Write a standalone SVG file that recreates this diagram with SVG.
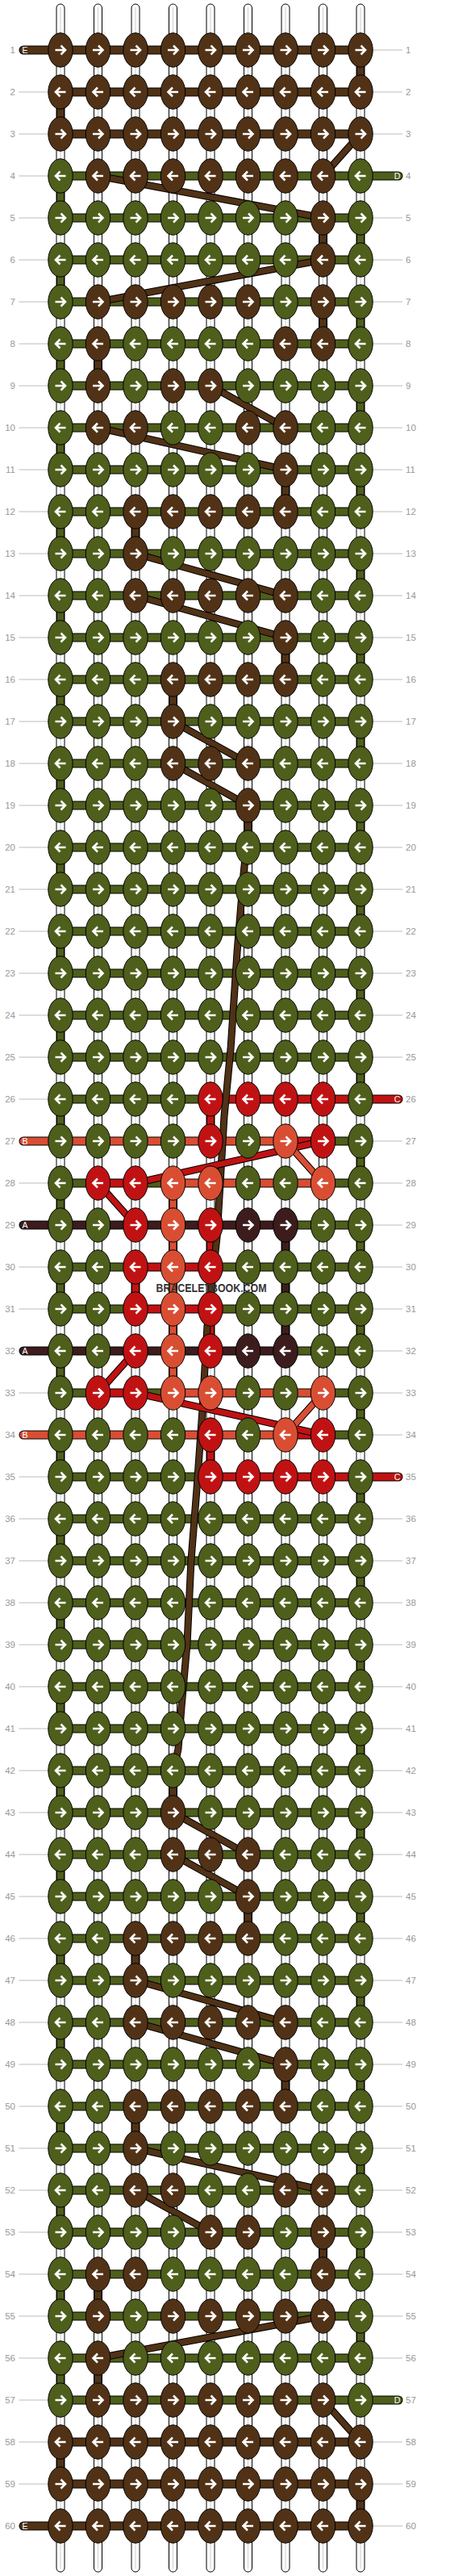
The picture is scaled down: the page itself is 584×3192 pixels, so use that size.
<svg xmlns="http://www.w3.org/2000/svg" width="584" height="3192" viewBox="0 0 584 3192">
<style>
.k{stroke:#000;stroke-width:1}
.g{fill:#4E5E1B}.e{fill:#513216}.c{fill:#C11213}.b{fill:#D94E33}.a{fill:#3D1C1D}
.ar{fill:none;stroke:#fff;stroke-width:2.6}
.warp{fill:#fff;stroke:#000;stroke-width:1}
.wc{stroke:#ccc;stroke-width:1}
.num{font-family:"Liberation Sans",Arial,sans-serif;font-size:11.5px;fill:#999}
.lab{font-family:"Liberation Sans",Arial,sans-serif;font-size:10.5px;fill:#fff;text-anchor:middle}
.ob{fill:none;stroke:#000;stroke-linecap:round}
.hb{fill:none;stroke-linecap:round;stroke-width:9}
.vb{fill:none;stroke-width:8}
.vo{fill:none;stroke:#000;stroke-width:10}
.dg{fill:none;stroke-width:7;stroke-linejoin:round}
.do{fill:none;stroke:#000;stroke-width:9;stroke-linejoin:round}
</style>
<defs>
<path id="ar" class="ar" d="M-6.5,0H5M0.5,-5.5L6,0L0.5,5.5"/>
<path id="al" class="ar" d="M6.5,0H-5M-0.5,-5.5L-6,0L-0.5,5.5"/>
<g id="GR"><ellipse class="k g" rx="15.2" ry="21.2"/><use href="#ar"/></g>
<g id="GL"><ellipse class="k g" rx="15.2" ry="21.2"/><use href="#al"/></g>
<g id="ER"><ellipse class="k e" rx="15.2" ry="21.2"/><use href="#ar"/></g>
<g id="EL"><ellipse class="k e" rx="15.2" ry="21.2"/><use href="#al"/></g>
<g id="CR"><ellipse class="k c" rx="15.2" ry="21.2"/><use href="#ar"/></g>
<g id="CL"><ellipse class="k c" rx="15.2" ry="21.2"/><use href="#al"/></g>
<g id="BR"><ellipse class="k b" rx="15.2" ry="21.2"/><use href="#ar"/></g>
<g id="BL"><ellipse class="k b" rx="15.2" ry="21.2"/><use href="#al"/></g>
<g id="AR"><ellipse class="k a" rx="15.2" ry="21.2"/><use href="#ar"/></g>
<g id="AL"><ellipse class="k a" rx="15.2" ry="21.2"/><use href="#al"/></g>
</defs>
<rect width="584" height="3192" fill="#fff"/>
<g id="warps">
<rect class="warp" x="70" y="5" width="10" height="3182" rx="5"/><line class="wc" x1="75" y1="9" x2="75" y2="3183"/>
<rect class="warp" x="116.5" y="5" width="10" height="3182" rx="5"/><line class="wc" x1="121.5" y1="9" x2="121.5" y2="3183"/>
<rect class="warp" x="163" y="5" width="10" height="3182" rx="5"/><line class="wc" x1="168" y1="9" x2="168" y2="3183"/>
<rect class="warp" x="209.5" y="5" width="10" height="3182" rx="5"/><line class="wc" x1="214.5" y1="9" x2="214.5" y2="3183"/>
<rect class="warp" x="256" y="5" width="10" height="3182" rx="5"/><line class="wc" x1="261" y1="9" x2="261" y2="3183"/>
<rect class="warp" x="302.5" y="5" width="10" height="3182" rx="5"/><line class="wc" x1="307.5" y1="9" x2="307.5" y2="3183"/>
<rect class="warp" x="349" y="5" width="10" height="3182" rx="5"/><line class="wc" x1="354" y1="9" x2="354" y2="3183"/>
<rect class="warp" x="395.5" y="5" width="10" height="3182" rx="5"/><line class="wc" x1="400.5" y1="9" x2="400.5" y2="3183"/>
<rect class="warp" x="442" y="5" width="10" height="3182" rx="5"/><line class="wc" x1="447" y1="9" x2="447" y2="3183"/>
</g>
<g id="rowlines" stroke="#bbb" stroke-width="1" fill="none">
<path d="M23.5,62H75M447,62H499M23.5,114H75M447,114H499M23.5,166H75M447,166H499M23.5,218H75M447,218H499M23.5,270H75M447,270H499M23.5,322H75M447,322H499M23.5,374H75M447,374H499M23.5,426H75M447,426H499M23.5,478H75M447,478H499M23.5,530H75M447,530H499M23.5,582H75M447,582H499M23.5,634H75M447,634H499M23.5,686H75M447,686H499M23.5,738H75M447,738H499M23.5,790H75M447,790H499M23.5,842H75M447,842H499M23.5,894H75M447,894H499M23.5,946H75M447,946H499M23.5,998H75M447,998H499M23.5,1050H75M447,1050H499M23.5,1102H75M447,1102H499M23.5,1154H75M447,1154H499M23.5,1206H75M447,1206H499M23.5,1258H75M447,1258H499M23.5,1310H75M447,1310H499M23.5,1362H75M447,1362H499M23.5,1414H75M447,1414H499M23.5,1466H75M447,1466H499M23.5,1518H75M447,1518H499M23.5,1570H75M447,1570H499M23.5,1622H75M447,1622H499M23.5,1674H75M447,1674H499M23.5,1726H75M447,1726H499M23.5,1778H75M447,1778H499M23.5,1830H75M447,1830H499M23.5,1882H75M447,1882H499M23.5,1934H75M447,1934H499M23.5,1986H75M447,1986H499M23.5,2038H75M447,2038H499M23.5,2090H75M447,2090H499M23.5,2142H75M447,2142H499M23.5,2194H75M447,2194H499M23.5,2246H75M447,2246H499M23.5,2298H75M447,2298H499M23.5,2350H75M447,2350H499M23.5,2402H75M447,2402H499M23.5,2454H75M447,2454H499M23.5,2506H75M447,2506H499M23.5,2558H75M447,2558H499M23.5,2610H75M447,2610H499M23.5,2662H75M447,2662H499M23.5,2714H75M447,2714H499M23.5,2766H75M447,2766H499M23.5,2818H75M447,2818H499M23.5,2870H75M447,2870H499M23.5,2922H75M447,2922H499M23.5,2974H75M447,2974H499M23.5,3026H75M447,3026H499M23.5,3078H75M447,3078H499M23.5,3130H75M447,3130H499"/>
</g>
<g id="connectors">
<!-- horizontal bars: outlines -->
<path class="ob" stroke-width="11" d="M29,62H447M75,114H447M75,166H447M75,218H494M75,270H447M75,322H447M75,374H447M75,426H447M75,478H447M75,530H447M75,582H447M75,634H447M75,686H447M75,738H447M75,790H447M75,842H447M75,894H447M75,946H447M75,998H447M75,1050H447M75,1102H447M75,1154H447M75,1206H447M75,1258H447M75,1310H447M75,1362H494M29,1414H447M75,1466H447M29,1518H447M75,1570H447M75,1622H447M29,1674H447M75,1726H447M29,1778H447M75,1830H494M75,1882H447M75,1934H447M75,1986H447M75,2038H447M75,2090H447M75,2142H447M75,2194H447M75,2246H447M75,2298H447M75,2350H447M75,2402H447M75,2454H447M75,2506H447M75,2558H447M75,2610H447M75,2662H447M75,2714H447M75,2766H447M75,2818H447M75,2870H447M75,2922H447M75,2974H494M75,3026H447M75,3078H447M29,3130H447"/>
<path class="hb e" stroke="#513216" d="M29,62H447M75,114H447M75,166H447M75,3026H447M75,3078H447M29,3130H447"/>
<path class="hb" stroke="#4E5E1B" d="M75,218H494M75,270H447M75,322H447M75,374H447M75,426H447M75,478H447M75,530H447M75,582H447M75,634H447M75,686H447M75,738H447M75,790H447M75,842H447M75,894H447M75,946H447M75,998H447M75,1050H447M75,1102H447M75,1154H447M75,1206H447M75,1258H447M75,1310H447M75,1362H261M400.5,1414H447M75,1466H121.5M168,1466H214.5M400.5,1466H447M354,1518H447M75,1570H168M261,1570H447M75,1622H168M261,1622H447M354,1674H447M75,1726H121.5M168,1726H214.5M400.5,1726H447M400.5,1778H447M75,1830H261M75,1882H447M75,1934H447M75,1986H447M75,2038H447M75,2090H447M75,2142H447M75,2194H447M75,2246H447M75,2298H447M75,2350H447M75,2402H447M75,2454H447M75,2506H447M75,2558H447M75,2610H447M75,2662H447M75,2714H447M75,2766H447M75,2818H447M75,2870H447M75,2922H447M75,2974H494"/>
<path class="hb" stroke="#C11213" d="M261,1362H494M354,1414H400.5M121.5,1466H168M168,1570H261M168,1622H261M121.5,1726H168M354,1778H400.5M261,1830H494"/>
<path class="hb" stroke="#D94E33" d="M29,1414H354M214.5,1466H400.5M214.5,1726H400.5M29,1778H354"/>
<path class="hb" stroke="#3D1C1D" d="M29,1518H354M29,1674H354"/>
<!-- vertical connectors -->
<line class="vo" x1="75" y1="218" x2="75" y2="2974" stroke-dasharray="52 52"/>
<line class="vb" stroke="#4E5E1B" x1="75" y1="218" x2="75" y2="2974" stroke-dasharray="52 52"/>
<line class="vo" x1="447" y1="270" x2="447" y2="2922" stroke-dasharray="52 52"/>
<line class="vb" stroke="#4E5E1B" x1="447" y1="270" x2="447" y2="2922" stroke-dasharray="52 52"/>
<path class="vo" d="M447,62V114M75,114V166M400.5,270V322M400.5,374V426M121.5,426V478M354,582V634M168,634V686M354,790V842M214.5,842V894M307.5,998V1040M214.5,2194V2246M307.5,2350V2402M168,2402V2454M354,2558V2610M168,2610V2662M400.5,2766V2818M121.5,2818V2870M121.5,2922V2974M75,3026V3078M447,3078V3130M261,1362V1414M261,1518V1570M168,1570V1622M261,1622V1674M261,1778V1830M214.5,1466V1726M354,1518V1674"/>
<path class="vb" stroke="#513216" d="M447,62V114M75,114V166M400.5,270V322M400.5,374V426M121.5,426V478M354,582V634M168,634V686M354,790V842M214.5,842V894M307.5,998V1040M214.5,2194V2246M307.5,2350V2402M168,2402V2454M354,2558V2610M168,2610V2662M400.5,2766V2818M121.5,2818V2870M121.5,2922V2974M75,3026V3078M447,3078V3130"/>
<path class="vb" stroke="#C11213" d="M261,1362V1414M261,1518V1570M168,1570V1622M261,1622V1674M261,1778V1830"/>
<path class="vb" stroke="#D94E33" d="M214.5,1466V1726"/>
<path class="vb" stroke="#3D1C1D" d="M354,1518V1674"/>
<!-- diagonal carried threads -->
<path class="do" d="M447,166L400.5,218M121.5,218L400.5,270M400.5,322L121.5,374M261,478L354,530M121.5,530L354,582M168,686L354,738M168,738L354,790M214.5,894L307.5,946M214.5,946L307.5,998M307.5,1030L302,1083L294,1180L286,1300L278,1383L269,1533L257,1643L251,1747L244,1845L237,1933L232,2037L225,2115L221,2167L214.5,2200M214.5,2246L307.5,2298M214.5,2298L307.5,2350M168,2454L354,2506M168,2506L354,2558M168,2662L400.5,2714M168,2714L261,2766M400.5,2870L121.5,2922M400.5,2974L447,3026"/>
<path class="dg" stroke="#513216" d="M447,166L400.5,218M121.5,218L400.5,270M400.5,322L121.5,374M261,478L354,530M121.5,530L354,582M168,686L354,738M168,738L354,790M214.5,894L307.5,946M214.5,946L307.5,998M307.5,1030L302,1083L294,1180L286,1300L278,1383L269,1533L257,1643L251,1747L244,1845L237,1933L232,2037L225,2115L221,2167L214.5,2200M214.5,2246L307.5,2298M214.5,2298L307.5,2350M168,2454L354,2506M168,2506L354,2558M168,2662L400.5,2714M168,2714L261,2766M400.5,2870L121.5,2922M400.5,2974L447,3026"/>
<path class="do" d="M400.5,1414L168,1466M121.5,1466L168,1518M168,1674L121.5,1726M168,1726L400.5,1778M354,1414L400.5,1466M400.5,1726L354,1778"/>
<path class="dg" stroke="#C11213" d="M400.5,1414L168,1466M121.5,1466L168,1518M168,1674L121.5,1726M168,1726L400.5,1778"/>
<path class="dg" stroke="#D94E33" d="M354,1414L400.5,1466M400.5,1726L354,1778"/>
</g>
<g id="knots">
<g id="k1-1"><use href="#ER" x="75" y="62"/></g><g id="k1-2"><use href="#ER" x="121.5" y="62"/></g><g id="k1-3"><use href="#ER" x="168" y="62"/></g><g id="k1-4"><use href="#ER" x="214.5" y="62"/></g><g id="k1-5"><use href="#ER" x="261" y="62"/></g><g id="k1-6"><use href="#ER" x="307.5" y="62"/></g><g id="k1-7"><use href="#ER" x="354" y="62"/></g><g id="k1-8"><use href="#ER" x="400.5" y="62"/></g><g id="k1-9"><use href="#ER" x="447" y="62"/></g>
<g id="k2-1"><use href="#EL" x="75" y="114"/></g><g id="k2-2"><use href="#EL" x="121.5" y="114"/></g><g id="k2-3"><use href="#EL" x="168" y="114"/></g><g id="k2-4"><use href="#EL" x="214.5" y="114"/></g><g id="k2-5"><use href="#EL" x="261" y="114"/></g><g id="k2-6"><use href="#EL" x="307.5" y="114"/></g><g id="k2-7"><use href="#EL" x="354" y="114"/></g><g id="k2-8"><use href="#EL" x="400.5" y="114"/></g><g id="k2-9"><use href="#EL" x="447" y="114"/></g>
<g id="k3-1"><use href="#ER" x="75" y="166"/></g><g id="k3-2"><use href="#ER" x="121.5" y="166"/></g><g id="k3-3"><use href="#ER" x="168" y="166"/></g><g id="k3-4"><use href="#ER" x="214.5" y="166"/></g><g id="k3-5"><use href="#ER" x="261" y="166"/></g><g id="k3-6"><use href="#ER" x="307.5" y="166"/></g><g id="k3-7"><use href="#ER" x="354" y="166"/></g><g id="k3-8"><use href="#ER" x="400.5" y="166"/></g><g id="k3-9"><use href="#ER" x="447" y="166"/></g>
<g id="k4-1"><use href="#GL" x="75" y="218"/></g><g id="k4-2"><use href="#EL" x="121.5" y="218"/></g><g id="k4-3"><use href="#EL" x="168" y="218"/></g><g id="k4-4"><use href="#EL" x="214.5" y="218"/></g><g id="k4-5"><use href="#EL" x="261" y="218"/></g><g id="k4-6"><use href="#EL" x="307.5" y="218"/></g><g id="k4-7"><use href="#EL" x="354" y="218"/></g><g id="k4-8"><use href="#EL" x="400.5" y="218"/></g><g id="k4-9"><use href="#GL" x="447" y="218"/></g>
<g id="k5-1"><use href="#GR" x="75" y="270"/></g><g id="k5-2"><use href="#GR" x="121.5" y="270"/></g><g id="k5-3"><use href="#GR" x="168" y="270"/></g><g id="k5-4"><use href="#GR" x="214.5" y="270"/></g><g id="k5-5"><use href="#GR" x="261" y="270"/></g><g id="k5-6"><use href="#GR" x="307.5" y="270"/></g><g id="k5-7"><use href="#GR" x="354" y="270"/></g><g id="k5-8"><use href="#ER" x="400.5" y="270"/></g><g id="k5-9"><use href="#GR" x="447" y="270"/></g>
<g id="k6-1"><use href="#GL" x="75" y="322"/></g><g id="k6-2"><use href="#GL" x="121.5" y="322"/></g><g id="k6-3"><use href="#GL" x="168" y="322"/></g><g id="k6-4"><use href="#GL" x="214.5" y="322"/></g><g id="k6-5"><use href="#GL" x="261" y="322"/></g><g id="k6-6"><use href="#GL" x="307.5" y="322"/></g><g id="k6-7"><use href="#GL" x="354" y="322"/></g><g id="k6-8"><use href="#EL" x="400.5" y="322"/></g><g id="k6-9"><use href="#GL" x="447" y="322"/></g>
<g id="k7-1"><use href="#GR" x="75" y="374"/></g><g id="k7-2"><use href="#ER" x="121.5" y="374"/></g><g id="k7-3"><use href="#ER" x="168" y="374"/></g><g id="k7-4"><use href="#ER" x="214.5" y="374"/></g><g id="k7-5"><use href="#ER" x="261" y="374"/></g><g id="k7-6"><use href="#ER" x="307.5" y="374"/></g><g id="k7-7"><use href="#GR" x="354" y="374"/></g><g id="k7-8"><use href="#ER" x="400.5" y="374"/></g><g id="k7-9"><use href="#GR" x="447" y="374"/></g>
<g id="k8-1"><use href="#GL" x="75" y="426"/></g><g id="k8-2"><use href="#EL" x="121.5" y="426"/></g><g id="k8-3"><use href="#GL" x="168" y="426"/></g><g id="k8-4"><use href="#GL" x="214.5" y="426"/></g><g id="k8-5"><use href="#GL" x="261" y="426"/></g><g id="k8-6"><use href="#GL" x="307.5" y="426"/></g><g id="k8-7"><use href="#EL" x="354" y="426"/></g><g id="k8-8"><use href="#EL" x="400.5" y="426"/></g><g id="k8-9"><use href="#GL" x="447" y="426"/></g>
<g id="k9-1"><use href="#GR" x="75" y="478"/></g><g id="k9-2"><use href="#ER" x="121.5" y="478"/></g><g id="k9-3"><use href="#GR" x="168" y="478"/></g><g id="k9-4"><use href="#ER" x="214.5" y="478"/></g><g id="k9-5"><use href="#ER" x="261" y="478"/></g><g id="k9-6"><use href="#GR" x="307.5" y="478"/></g><g id="k9-7"><use href="#GR" x="354" y="478"/></g><g id="k9-8"><use href="#GR" x="400.5" y="478"/></g><g id="k9-9"><use href="#GR" x="447" y="478"/></g>
<g id="k10-1"><use href="#GL" x="75" y="530"/></g><g id="k10-2"><use href="#EL" x="121.5" y="530"/></g><g id="k10-3"><use href="#EL" x="168" y="530"/></g><g id="k10-4"><use href="#GL" x="214.5" y="530"/></g><g id="k10-5"><use href="#GL" x="261" y="530"/></g><g id="k10-6"><use href="#EL" x="307.5" y="530"/></g><g id="k10-7"><use href="#EL" x="354" y="530"/></g><g id="k10-8"><use href="#GL" x="400.5" y="530"/></g><g id="k10-9"><use href="#GL" x="447" y="530"/></g>
<g id="k11-1"><use href="#GR" x="75" y="582"/></g><g id="k11-2"><use href="#GR" x="121.5" y="582"/></g><g id="k11-3"><use href="#GR" x="168" y="582"/></g><g id="k11-4"><use href="#GR" x="214.5" y="582"/></g><g id="k11-5"><use href="#GR" x="261" y="582"/></g><g id="k11-6"><use href="#GR" x="307.5" y="582"/></g><g id="k11-7"><use href="#ER" x="354" y="582"/></g><g id="k11-8"><use href="#GR" x="400.5" y="582"/></g><g id="k11-9"><use href="#GR" x="447" y="582"/></g>
<g id="k12-1"><use href="#GL" x="75" y="634"/></g><g id="k12-2"><use href="#GL" x="121.5" y="634"/></g><g id="k12-3"><use href="#EL" x="168" y="634"/></g><g id="k12-4"><use href="#EL" x="214.5" y="634"/></g><g id="k12-5"><use href="#EL" x="261" y="634"/></g><g id="k12-6"><use href="#EL" x="307.5" y="634"/></g><g id="k12-7"><use href="#EL" x="354" y="634"/></g><g id="k12-8"><use href="#GL" x="400.5" y="634"/></g><g id="k12-9"><use href="#GL" x="447" y="634"/></g>
<g id="k13-1"><use href="#GR" x="75" y="686"/></g><g id="k13-2"><use href="#GR" x="121.5" y="686"/></g><g id="k13-3"><use href="#ER" x="168" y="686"/></g><g id="k13-4"><use href="#GR" x="214.5" y="686"/></g><g id="k13-5"><use href="#GR" x="261" y="686"/></g><g id="k13-6"><use href="#GR" x="307.5" y="686"/></g><g id="k13-7"><use href="#GR" x="354" y="686"/></g><g id="k13-8"><use href="#GR" x="400.5" y="686"/></g><g id="k13-9"><use href="#GR" x="447" y="686"/></g>
<g id="k14-1"><use href="#GL" x="75" y="738"/></g><g id="k14-2"><use href="#GL" x="121.5" y="738"/></g><g id="k14-3"><use href="#EL" x="168" y="738"/></g><g id="k14-4"><use href="#EL" x="214.5" y="738"/></g><g id="k14-5"><use href="#EL" x="261" y="738"/></g><g id="k14-6"><use href="#EL" x="307.5" y="738"/></g><g id="k14-7"><use href="#EL" x="354" y="738"/></g><g id="k14-8"><use href="#GL" x="400.5" y="738"/></g><g id="k14-9"><use href="#GL" x="447" y="738"/></g>
<g id="k15-1"><use href="#GR" x="75" y="790"/></g><g id="k15-2"><use href="#GR" x="121.5" y="790"/></g><g id="k15-3"><use href="#GR" x="168" y="790"/></g><g id="k15-4"><use href="#GR" x="214.5" y="790"/></g><g id="k15-5"><use href="#GR" x="261" y="790"/></g><g id="k15-6"><use href="#GR" x="307.5" y="790"/></g><g id="k15-7"><use href="#ER" x="354" y="790"/></g><g id="k15-8"><use href="#GR" x="400.5" y="790"/></g><g id="k15-9"><use href="#GR" x="447" y="790"/></g>
<g id="k16-1"><use href="#GL" x="75" y="842"/></g><g id="k16-2"><use href="#GL" x="121.5" y="842"/></g><g id="k16-3"><use href="#GL" x="168" y="842"/></g><g id="k16-4"><use href="#EL" x="214.5" y="842"/></g><g id="k16-5"><use href="#EL" x="261" y="842"/></g><g id="k16-6"><use href="#EL" x="307.5" y="842"/></g><g id="k16-7"><use href="#EL" x="354" y="842"/></g><g id="k16-8"><use href="#GL" x="400.5" y="842"/></g><g id="k16-9"><use href="#GL" x="447" y="842"/></g>
<g id="k17-1"><use href="#GR" x="75" y="894"/></g><g id="k17-2"><use href="#GR" x="121.5" y="894"/></g><g id="k17-3"><use href="#GR" x="168" y="894"/></g><g id="k17-4"><use href="#ER" x="214.5" y="894"/></g><g id="k17-5"><use href="#GR" x="261" y="894"/></g><g id="k17-6"><use href="#GR" x="307.5" y="894"/></g><g id="k17-7"><use href="#GR" x="354" y="894"/></g><g id="k17-8"><use href="#GR" x="400.5" y="894"/></g><g id="k17-9"><use href="#GR" x="447" y="894"/></g>
<g id="k18-1"><use href="#GL" x="75" y="946"/></g><g id="k18-2"><use href="#GL" x="121.5" y="946"/></g><g id="k18-3"><use href="#GL" x="168" y="946"/></g><g id="k18-4"><use href="#EL" x="214.5" y="946"/></g><g id="k18-5"><use href="#EL" x="261" y="946"/></g><g id="k18-6"><use href="#EL" x="307.5" y="946"/></g><g id="k18-7"><use href="#GL" x="354" y="946"/></g><g id="k18-8"><use href="#GL" x="400.5" y="946"/></g><g id="k18-9"><use href="#GL" x="447" y="946"/></g>
<g id="k19-1"><use href="#GR" x="75" y="998"/></g><g id="k19-2"><use href="#GR" x="121.5" y="998"/></g><g id="k19-3"><use href="#GR" x="168" y="998"/></g><g id="k19-4"><use href="#GR" x="214.5" y="998"/></g><g id="k19-5"><use href="#GR" x="261" y="998"/></g><g id="k19-6"><use href="#ER" x="307.5" y="998"/></g><g id="k19-7"><use href="#GR" x="354" y="998"/></g><g id="k19-8"><use href="#GR" x="400.5" y="998"/></g><g id="k19-9"><use href="#GR" x="447" y="998"/></g>
<g id="k20-1"><use href="#GL" x="75" y="1050"/></g><g id="k20-2"><use href="#GL" x="121.5" y="1050"/></g><g id="k20-3"><use href="#GL" x="168" y="1050"/></g><g id="k20-4"><use href="#GL" x="214.5" y="1050"/></g><g id="k20-5"><use href="#GL" x="261" y="1050"/></g><g id="k20-6"><use href="#GL" x="307.5" y="1050"/></g><g id="k20-7"><use href="#GL" x="354" y="1050"/></g><g id="k20-8"><use href="#GL" x="400.5" y="1050"/></g><g id="k20-9"><use href="#GL" x="447" y="1050"/></g>
<g id="k21-1"><use href="#GR" x="75" y="1102"/></g><g id="k21-2"><use href="#GR" x="121.5" y="1102"/></g><g id="k21-3"><use href="#GR" x="168" y="1102"/></g><g id="k21-4"><use href="#GR" x="214.5" y="1102"/></g><g id="k21-5"><use href="#GR" x="261" y="1102"/></g><g id="k21-6"><use href="#GR" x="307.5" y="1102"/></g><g id="k21-7"><use href="#GR" x="354" y="1102"/></g><g id="k21-8"><use href="#GR" x="400.5" y="1102"/></g><g id="k21-9"><use href="#GR" x="447" y="1102"/></g>
<g id="k22-1"><use href="#GL" x="75" y="1154"/></g><g id="k22-2"><use href="#GL" x="121.5" y="1154"/></g><g id="k22-3"><use href="#GL" x="168" y="1154"/></g><g id="k22-4"><use href="#GL" x="214.5" y="1154"/></g><g id="k22-5"><use href="#GL" x="261" y="1154"/></g><g id="k22-6"><use href="#GL" x="307.5" y="1154"/></g><g id="k22-7"><use href="#GL" x="354" y="1154"/></g><g id="k22-8"><use href="#GL" x="400.5" y="1154"/></g><g id="k22-9"><use href="#GL" x="447" y="1154"/></g>
<g id="k23-1"><use href="#GR" x="75" y="1206"/></g><g id="k23-2"><use href="#GR" x="121.5" y="1206"/></g><g id="k23-3"><use href="#GR" x="168" y="1206"/></g><g id="k23-4"><use href="#GR" x="214.5" y="1206"/></g><g id="k23-5"><use href="#GR" x="261" y="1206"/></g><g id="k23-6"><use href="#GR" x="307.5" y="1206"/></g><g id="k23-7"><use href="#GR" x="354" y="1206"/></g><g id="k23-8"><use href="#GR" x="400.5" y="1206"/></g><g id="k23-9"><use href="#GR" x="447" y="1206"/></g>
<g id="k24-1"><use href="#GL" x="75" y="1258"/></g><g id="k24-2"><use href="#GL" x="121.5" y="1258"/></g><g id="k24-3"><use href="#GL" x="168" y="1258"/></g><g id="k24-4"><use href="#GL" x="214.5" y="1258"/></g><g id="k24-5"><use href="#GL" x="261" y="1258"/></g><g id="k24-6"><use href="#GL" x="307.5" y="1258"/></g><g id="k24-7"><use href="#GL" x="354" y="1258"/></g><g id="k24-8"><use href="#GL" x="400.5" y="1258"/></g><g id="k24-9"><use href="#GL" x="447" y="1258"/></g>
<g id="k25-1"><use href="#GR" x="75" y="1310"/></g><g id="k25-2"><use href="#GR" x="121.5" y="1310"/></g><g id="k25-3"><use href="#GR" x="168" y="1310"/></g><g id="k25-4"><use href="#GR" x="214.5" y="1310"/></g><g id="k25-5"><use href="#GR" x="261" y="1310"/></g><g id="k25-6"><use href="#GR" x="307.5" y="1310"/></g><g id="k25-7"><use href="#GR" x="354" y="1310"/></g><g id="k25-8"><use href="#GR" x="400.5" y="1310"/></g><g id="k25-9"><use href="#GR" x="447" y="1310"/></g>
<g id="k26-1"><use href="#GL" x="75" y="1362"/></g><g id="k26-2"><use href="#GL" x="121.5" y="1362"/></g><g id="k26-3"><use href="#GL" x="168" y="1362"/></g><g id="k26-4"><use href="#GL" x="214.5" y="1362"/></g><g id="k26-5"><use href="#CL" x="261" y="1362"/></g><g id="k26-6"><use href="#CL" x="307.5" y="1362"/></g><g id="k26-7"><use href="#CL" x="354" y="1362"/></g><g id="k26-8"><use href="#CL" x="400.5" y="1362"/></g><g id="k26-9"><use href="#GL" x="447" y="1362"/></g>
<g id="k27-1"><use href="#GR" x="75" y="1414"/></g><g id="k27-2"><use href="#GR" x="121.5" y="1414"/></g><g id="k27-3"><use href="#GR" x="168" y="1414"/></g><g id="k27-4"><use href="#GR" x="214.5" y="1414"/></g><g id="k27-5"><use href="#CR" x="261" y="1414"/></g><g id="k27-6"><use href="#GR" x="307.5" y="1414"/></g><g id="k27-7"><use href="#BR" x="354" y="1414"/></g><g id="k27-8"><use href="#CR" x="400.5" y="1414"/></g><g id="k27-9"><use href="#GR" x="447" y="1414"/></g>
<g id="k28-1"><use href="#GL" x="75" y="1466"/></g><g id="k28-2"><use href="#CL" x="121.5" y="1466"/></g><g id="k28-3"><use href="#CL" x="168" y="1466"/></g><g id="k28-4"><use href="#BL" x="214.5" y="1466"/></g><g id="k28-5"><use href="#BL" x="261" y="1466"/></g><g id="k28-6"><use href="#GL" x="307.5" y="1466"/></g><g id="k28-7"><use href="#GL" x="354" y="1466"/></g><g id="k28-8"><use href="#BL" x="400.5" y="1466"/></g><g id="k28-9"><use href="#GL" x="447" y="1466"/></g>
<g id="k29-1"><use href="#GR" x="75" y="1518"/></g><g id="k29-2"><use href="#GR" x="121.5" y="1518"/></g><g id="k29-3"><use href="#CR" x="168" y="1518"/></g><g id="k29-4"><use href="#BR" x="214.5" y="1518"/></g><g id="k29-5"><use href="#CR" x="261" y="1518"/></g><g id="k29-6"><use href="#AR" x="307.5" y="1518"/></g><g id="k29-7"><use href="#AR" x="354" y="1518"/></g><g id="k29-8"><use href="#GR" x="400.5" y="1518"/></g><g id="k29-9"><use href="#GR" x="447" y="1518"/></g>
<g id="k30-1"><use href="#GL" x="75" y="1570"/></g><g id="k30-2"><use href="#GL" x="121.5" y="1570"/></g><g id="k30-3"><use href="#CL" x="168" y="1570"/></g><g id="k30-4"><use href="#BL" x="214.5" y="1570"/></g><g id="k30-5"><use href="#CL" x="261" y="1570"/></g><g id="k30-6"><use href="#GL" x="307.5" y="1570"/></g><g id="k30-7"><use href="#GL" x="354" y="1570"/></g><g id="k30-8"><use href="#GL" x="400.5" y="1570"/></g><g id="k30-9"><use href="#GL" x="447" y="1570"/></g>
<g id="k31-1"><use href="#GR" x="75" y="1622"/></g><g id="k31-2"><use href="#GR" x="121.5" y="1622"/></g><g id="k31-3"><use href="#CR" x="168" y="1622"/></g><g id="k31-4"><use href="#BR" x="214.5" y="1622"/></g><g id="k31-5"><use href="#CR" x="261" y="1622"/></g><g id="k31-6"><use href="#GR" x="307.5" y="1622"/></g><g id="k31-7"><use href="#GR" x="354" y="1622"/></g><g id="k31-8"><use href="#GR" x="400.5" y="1622"/></g><g id="k31-9"><use href="#GR" x="447" y="1622"/></g>
<g id="k32-1"><use href="#GL" x="75" y="1674"/></g><g id="k32-2"><use href="#GL" x="121.5" y="1674"/></g><g id="k32-3"><use href="#CL" x="168" y="1674"/></g><g id="k32-4"><use href="#BL" x="214.5" y="1674"/></g><g id="k32-5"><use href="#CL" x="261" y="1674"/></g><g id="k32-6"><use href="#AL" x="307.5" y="1674"/></g><g id="k32-7"><use href="#AL" x="354" y="1674"/></g><g id="k32-8"><use href="#GL" x="400.5" y="1674"/></g><g id="k32-9"><use href="#GL" x="447" y="1674"/></g>
<g id="k33-1"><use href="#GR" x="75" y="1726"/></g><g id="k33-2"><use href="#CR" x="121.5" y="1726"/></g><g id="k33-3"><use href="#CR" x="168" y="1726"/></g><g id="k33-4"><use href="#BR" x="214.5" y="1726"/></g><g id="k33-5"><use href="#BR" x="261" y="1726"/></g><g id="k33-6"><use href="#GR" x="307.5" y="1726"/></g><g id="k33-7"><use href="#GR" x="354" y="1726"/></g><g id="k33-8"><use href="#BR" x="400.5" y="1726"/></g><g id="k33-9"><use href="#GR" x="447" y="1726"/></g>
<g id="k34-1"><use href="#GL" x="75" y="1778"/></g><g id="k34-2"><use href="#GL" x="121.5" y="1778"/></g><g id="k34-3"><use href="#GL" x="168" y="1778"/></g><g id="k34-4"><use href="#GL" x="214.5" y="1778"/></g><g id="k34-5"><use href="#CL" x="261" y="1778"/></g><g id="k34-6"><use href="#GL" x="307.5" y="1778"/></g><g id="k34-7"><use href="#BL" x="354" y="1778"/></g><g id="k34-8"><use href="#CL" x="400.5" y="1778"/></g><g id="k34-9"><use href="#GL" x="447" y="1778"/></g>
<g id="k35-1"><use href="#GR" x="75" y="1830"/></g><g id="k35-2"><use href="#GR" x="121.5" y="1830"/></g><g id="k35-3"><use href="#GR" x="168" y="1830"/></g><g id="k35-4"><use href="#GR" x="214.5" y="1830"/></g><g id="k35-5"><use href="#CR" x="261" y="1830"/></g><g id="k35-6"><use href="#CR" x="307.5" y="1830"/></g><g id="k35-7"><use href="#CR" x="354" y="1830"/></g><g id="k35-8"><use href="#CR" x="400.5" y="1830"/></g><g id="k35-9"><use href="#GR" x="447" y="1830"/></g>
<g id="k36-1"><use href="#GL" x="75" y="1882"/></g><g id="k36-2"><use href="#GL" x="121.5" y="1882"/></g><g id="k36-3"><use href="#GL" x="168" y="1882"/></g><g id="k36-4"><use href="#GL" x="214.5" y="1882"/></g><g id="k36-5"><use href="#GL" x="261" y="1882"/></g><g id="k36-6"><use href="#GL" x="307.5" y="1882"/></g><g id="k36-7"><use href="#GL" x="354" y="1882"/></g><g id="k36-8"><use href="#GL" x="400.5" y="1882"/></g><g id="k36-9"><use href="#GL" x="447" y="1882"/></g>
<g id="k37-1"><use href="#GR" x="75" y="1934"/></g><g id="k37-2"><use href="#GR" x="121.5" y="1934"/></g><g id="k37-3"><use href="#GR" x="168" y="1934"/></g><g id="k37-4"><use href="#GR" x="214.5" y="1934"/></g><g id="k37-5"><use href="#GR" x="261" y="1934"/></g><g id="k37-6"><use href="#GR" x="307.5" y="1934"/></g><g id="k37-7"><use href="#GR" x="354" y="1934"/></g><g id="k37-8"><use href="#GR" x="400.5" y="1934"/></g><g id="k37-9"><use href="#GR" x="447" y="1934"/></g>
<g id="k38-1"><use href="#GL" x="75" y="1986"/></g><g id="k38-2"><use href="#GL" x="121.5" y="1986"/></g><g id="k38-3"><use href="#GL" x="168" y="1986"/></g><g id="k38-4"><use href="#GL" x="214.5" y="1986"/></g><g id="k38-5"><use href="#GL" x="261" y="1986"/></g><g id="k38-6"><use href="#GL" x="307.5" y="1986"/></g><g id="k38-7"><use href="#GL" x="354" y="1986"/></g><g id="k38-8"><use href="#GL" x="400.5" y="1986"/></g><g id="k38-9"><use href="#GL" x="447" y="1986"/></g>
<g id="k39-1"><use href="#GR" x="75" y="2038"/></g><g id="k39-2"><use href="#GR" x="121.5" y="2038"/></g><g id="k39-3"><use href="#GR" x="168" y="2038"/></g><g id="k39-4"><use href="#GR" x="214.5" y="2038"/></g><g id="k39-5"><use href="#GR" x="261" y="2038"/></g><g id="k39-6"><use href="#GR" x="307.5" y="2038"/></g><g id="k39-7"><use href="#GR" x="354" y="2038"/></g><g id="k39-8"><use href="#GR" x="400.5" y="2038"/></g><g id="k39-9"><use href="#GR" x="447" y="2038"/></g>
<g id="k40-1"><use href="#GL" x="75" y="2090"/></g><g id="k40-2"><use href="#GL" x="121.5" y="2090"/></g><g id="k40-3"><use href="#GL" x="168" y="2090"/></g><g id="k40-4"><use href="#GL" x="214.5" y="2090"/></g><g id="k40-5"><use href="#GL" x="261" y="2090"/></g><g id="k40-6"><use href="#GL" x="307.5" y="2090"/></g><g id="k40-7"><use href="#GL" x="354" y="2090"/></g><g id="k40-8"><use href="#GL" x="400.5" y="2090"/></g><g id="k40-9"><use href="#GL" x="447" y="2090"/></g>
<g id="k41-1"><use href="#GR" x="75" y="2142"/></g><g id="k41-2"><use href="#GR" x="121.5" y="2142"/></g><g id="k41-3"><use href="#GR" x="168" y="2142"/></g><g id="k41-4"><use href="#GR" x="214.5" y="2142"/></g><g id="k41-5"><use href="#GR" x="261" y="2142"/></g><g id="k41-6"><use href="#GR" x="307.5" y="2142"/></g><g id="k41-7"><use href="#GR" x="354" y="2142"/></g><g id="k41-8"><use href="#GR" x="400.5" y="2142"/></g><g id="k41-9"><use href="#GR" x="447" y="2142"/></g>
<g id="k42-1"><use href="#GL" x="75" y="2194"/></g><g id="k42-2"><use href="#GL" x="121.5" y="2194"/></g><g id="k42-3"><use href="#GL" x="168" y="2194"/></g><g id="k42-4"><use href="#GL" x="214.5" y="2194"/></g><g id="k42-5"><use href="#GL" x="261" y="2194"/></g><g id="k42-6"><use href="#GL" x="307.5" y="2194"/></g><g id="k42-7"><use href="#GL" x="354" y="2194"/></g><g id="k42-8"><use href="#GL" x="400.5" y="2194"/></g><g id="k42-9"><use href="#GL" x="447" y="2194"/></g>
<g id="k43-1"><use href="#GR" x="75" y="2246"/></g><g id="k43-2"><use href="#GR" x="121.5" y="2246"/></g><g id="k43-3"><use href="#GR" x="168" y="2246"/></g><g id="k43-4"><use href="#ER" x="214.5" y="2246"/></g><g id="k43-5"><use href="#GR" x="261" y="2246"/></g><g id="k43-6"><use href="#GR" x="307.5" y="2246"/></g><g id="k43-7"><use href="#GR" x="354" y="2246"/></g><g id="k43-8"><use href="#GR" x="400.5" y="2246"/></g><g id="k43-9"><use href="#GR" x="447" y="2246"/></g>
<g id="k44-1"><use href="#GL" x="75" y="2298"/></g><g id="k44-2"><use href="#GL" x="121.5" y="2298"/></g><g id="k44-3"><use href="#GL" x="168" y="2298"/></g><g id="k44-4"><use href="#EL" x="214.5" y="2298"/></g><g id="k44-5"><use href="#EL" x="261" y="2298"/></g><g id="k44-6"><use href="#EL" x="307.5" y="2298"/></g><g id="k44-7"><use href="#GL" x="354" y="2298"/></g><g id="k44-8"><use href="#GL" x="400.5" y="2298"/></g><g id="k44-9"><use href="#GL" x="447" y="2298"/></g>
<g id="k45-1"><use href="#GR" x="75" y="2350"/></g><g id="k45-2"><use href="#GR" x="121.5" y="2350"/></g><g id="k45-3"><use href="#GR" x="168" y="2350"/></g><g id="k45-4"><use href="#GR" x="214.5" y="2350"/></g><g id="k45-5"><use href="#GR" x="261" y="2350"/></g><g id="k45-6"><use href="#ER" x="307.5" y="2350"/></g><g id="k45-7"><use href="#GR" x="354" y="2350"/></g><g id="k45-8"><use href="#GR" x="400.5" y="2350"/></g><g id="k45-9"><use href="#GR" x="447" y="2350"/></g>
<g id="k46-1"><use href="#GL" x="75" y="2402"/></g><g id="k46-2"><use href="#GL" x="121.5" y="2402"/></g><g id="k46-3"><use href="#EL" x="168" y="2402"/></g><g id="k46-4"><use href="#EL" x="214.5" y="2402"/></g><g id="k46-5"><use href="#EL" x="261" y="2402"/></g><g id="k46-6"><use href="#EL" x="307.5" y="2402"/></g><g id="k46-7"><use href="#GL" x="354" y="2402"/></g><g id="k46-8"><use href="#GL" x="400.5" y="2402"/></g><g id="k46-9"><use href="#GL" x="447" y="2402"/></g>
<g id="k47-1"><use href="#GR" x="75" y="2454"/></g><g id="k47-2"><use href="#GR" x="121.5" y="2454"/></g><g id="k47-3"><use href="#ER" x="168" y="2454"/></g><g id="k47-4"><use href="#GR" x="214.5" y="2454"/></g><g id="k47-5"><use href="#GR" x="261" y="2454"/></g><g id="k47-6"><use href="#GR" x="307.5" y="2454"/></g><g id="k47-7"><use href="#GR" x="354" y="2454"/></g><g id="k47-8"><use href="#GR" x="400.5" y="2454"/></g><g id="k47-9"><use href="#GR" x="447" y="2454"/></g>
<g id="k48-1"><use href="#GL" x="75" y="2506"/></g><g id="k48-2"><use href="#GL" x="121.5" y="2506"/></g><g id="k48-3"><use href="#EL" x="168" y="2506"/></g><g id="k48-4"><use href="#EL" x="214.5" y="2506"/></g><g id="k48-5"><use href="#EL" x="261" y="2506"/></g><g id="k48-6"><use href="#EL" x="307.5" y="2506"/></g><g id="k48-7"><use href="#EL" x="354" y="2506"/></g><g id="k48-8"><use href="#GL" x="400.5" y="2506"/></g><g id="k48-9"><use href="#GL" x="447" y="2506"/></g>
<g id="k49-1"><use href="#GR" x="75" y="2558"/></g><g id="k49-2"><use href="#GR" x="121.5" y="2558"/></g><g id="k49-3"><use href="#GR" x="168" y="2558"/></g><g id="k49-4"><use href="#GR" x="214.5" y="2558"/></g><g id="k49-5"><use href="#GR" x="261" y="2558"/></g><g id="k49-6"><use href="#GR" x="307.5" y="2558"/></g><g id="k49-7"><use href="#ER" x="354" y="2558"/></g><g id="k49-8"><use href="#GR" x="400.5" y="2558"/></g><g id="k49-9"><use href="#GR" x="447" y="2558"/></g>
<g id="k50-1"><use href="#GL" x="75" y="2610"/></g><g id="k50-2"><use href="#GL" x="121.5" y="2610"/></g><g id="k50-3"><use href="#EL" x="168" y="2610"/></g><g id="k50-4"><use href="#EL" x="214.5" y="2610"/></g><g id="k50-5"><use href="#EL" x="261" y="2610"/></g><g id="k50-6"><use href="#EL" x="307.5" y="2610"/></g><g id="k50-7"><use href="#EL" x="354" y="2610"/></g><g id="k50-8"><use href="#GL" x="400.5" y="2610"/></g><g id="k50-9"><use href="#GL" x="447" y="2610"/></g>
<g id="k51-1"><use href="#GR" x="75" y="2662"/></g><g id="k51-2"><use href="#GR" x="121.5" y="2662"/></g><g id="k51-3"><use href="#ER" x="168" y="2662"/></g><g id="k51-4"><use href="#GR" x="214.5" y="2662"/></g><g id="k51-5"><use href="#GR" x="261" y="2662"/></g><g id="k51-6"><use href="#GR" x="307.5" y="2662"/></g><g id="k51-7"><use href="#GR" x="354" y="2662"/></g><g id="k51-8"><use href="#GR" x="400.5" y="2662"/></g><g id="k51-9"><use href="#GR" x="447" y="2662"/></g>
<g id="k52-1"><use href="#GL" x="75" y="2714"/></g><g id="k52-2"><use href="#GL" x="121.5" y="2714"/></g><g id="k52-3"><use href="#EL" x="168" y="2714"/></g><g id="k52-4"><use href="#EL" x="214.5" y="2714"/></g><g id="k52-5"><use href="#GL" x="261" y="2714"/></g><g id="k52-6"><use href="#GL" x="307.5" y="2714"/></g><g id="k52-7"><use href="#EL" x="354" y="2714"/></g><g id="k52-8"><use href="#EL" x="400.5" y="2714"/></g><g id="k52-9"><use href="#GL" x="447" y="2714"/></g>
<g id="k53-1"><use href="#GR" x="75" y="2766"/></g><g id="k53-2"><use href="#GR" x="121.5" y="2766"/></g><g id="k53-3"><use href="#GR" x="168" y="2766"/></g><g id="k53-4"><use href="#GR" x="214.5" y="2766"/></g><g id="k53-5"><use href="#ER" x="261" y="2766"/></g><g id="k53-6"><use href="#ER" x="307.5" y="2766"/></g><g id="k53-7"><use href="#GR" x="354" y="2766"/></g><g id="k53-8"><use href="#ER" x="400.5" y="2766"/></g><g id="k53-9"><use href="#GR" x="447" y="2766"/></g>
<g id="k54-1"><use href="#GL" x="75" y="2818"/></g><g id="k54-2"><use href="#EL" x="121.5" y="2818"/></g><g id="k54-3"><use href="#EL" x="168" y="2818"/></g><g id="k54-4"><use href="#GL" x="214.5" y="2818"/></g><g id="k54-5"><use href="#GL" x="261" y="2818"/></g><g id="k54-6"><use href="#GL" x="307.5" y="2818"/></g><g id="k54-7"><use href="#GL" x="354" y="2818"/></g><g id="k54-8"><use href="#EL" x="400.5" y="2818"/></g><g id="k54-9"><use href="#GL" x="447" y="2818"/></g>
<g id="k55-1"><use href="#GR" x="75" y="2870"/></g><g id="k55-2"><use href="#ER" x="121.5" y="2870"/></g><g id="k55-3"><use href="#GR" x="168" y="2870"/></g><g id="k55-4"><use href="#ER" x="214.5" y="2870"/></g><g id="k55-5"><use href="#ER" x="261" y="2870"/></g><g id="k55-6"><use href="#ER" x="307.5" y="2870"/></g><g id="k55-7"><use href="#ER" x="354" y="2870"/></g><g id="k55-8"><use href="#ER" x="400.5" y="2870"/></g><g id="k55-9"><use href="#GR" x="447" y="2870"/></g>
<g id="k56-1"><use href="#GL" x="75" y="2922"/></g><g id="k56-2"><use href="#EL" x="121.5" y="2922"/></g><g id="k56-3"><use href="#GL" x="168" y="2922"/></g><g id="k56-4"><use href="#GL" x="214.5" y="2922"/></g><g id="k56-5"><use href="#GL" x="261" y="2922"/></g><g id="k56-6"><use href="#GL" x="307.5" y="2922"/></g><g id="k56-7"><use href="#GL" x="354" y="2922"/></g><g id="k56-8"><use href="#GL" x="400.5" y="2922"/></g><g id="k56-9"><use href="#GL" x="447" y="2922"/></g>
<g id="k57-1"><use href="#GR" x="75" y="2974"/></g><g id="k57-2"><use href="#ER" x="121.5" y="2974"/></g><g id="k57-3"><use href="#ER" x="168" y="2974"/></g><g id="k57-4"><use href="#ER" x="214.5" y="2974"/></g><g id="k57-5"><use href="#ER" x="261" y="2974"/></g><g id="k57-6"><use href="#ER" x="307.5" y="2974"/></g><g id="k57-7"><use href="#ER" x="354" y="2974"/></g><g id="k57-8"><use href="#ER" x="400.5" y="2974"/></g><g id="k57-9"><use href="#GR" x="447" y="2974"/></g>
<g id="k58-1"><use href="#EL" x="75" y="3026"/></g><g id="k58-2"><use href="#EL" x="121.5" y="3026"/></g><g id="k58-3"><use href="#EL" x="168" y="3026"/></g><g id="k58-4"><use href="#EL" x="214.5" y="3026"/></g><g id="k58-5"><use href="#EL" x="261" y="3026"/></g><g id="k58-6"><use href="#EL" x="307.5" y="3026"/></g><g id="k58-7"><use href="#EL" x="354" y="3026"/></g><g id="k58-8"><use href="#EL" x="400.5" y="3026"/></g><g id="k58-9"><use href="#EL" x="447" y="3026"/></g>
<g id="k59-1"><use href="#ER" x="75" y="3078"/></g><g id="k59-2"><use href="#ER" x="121.5" y="3078"/></g><g id="k59-3"><use href="#ER" x="168" y="3078"/></g><g id="k59-4"><use href="#ER" x="214.5" y="3078"/></g><g id="k59-5"><use href="#ER" x="261" y="3078"/></g><g id="k59-6"><use href="#ER" x="307.5" y="3078"/></g><g id="k59-7"><use href="#ER" x="354" y="3078"/></g><g id="k59-8"><use href="#ER" x="400.5" y="3078"/></g><g id="k59-9"><use href="#ER" x="447" y="3078"/></g>
<g id="k60-1"><use href="#EL" x="75" y="3130"/></g><g id="k60-2"><use href="#EL" x="121.5" y="3130"/></g><g id="k60-3"><use href="#EL" x="168" y="3130"/></g><g id="k60-4"><use href="#EL" x="214.5" y="3130"/></g><g id="k60-5"><use href="#EL" x="261" y="3130"/></g><g id="k60-6"><use href="#EL" x="307.5" y="3130"/></g><g id="k60-7"><use href="#EL" x="354" y="3130"/></g><g id="k60-8"><use href="#EL" x="400.5" y="3130"/></g><g id="k60-9"><use href="#EL" x="447" y="3130"/></g>
</g>
<g id="thread-labels" class="lab">
<text x="31" y="65.8">E</text>
<text x="492.5" y="221.8">D</text>
<text x="492.5" y="1365.8">C</text>
<text x="31" y="1417.8">B</text>
<text x="31" y="1521.8">A</text>
<text x="31" y="1677.8">A</text>
<text x="31" y="1781.8">B</text>
<text x="492.5" y="1833.8">C</text>
<text x="492.5" y="2977.8">D</text>
<text x="31" y="3133.8">E</text>
</g>
<g id="row-numbers-left" class="num" text-anchor="end">
<text x="19" y="66">1</text><text x="19" y="118">2</text><text x="19" y="170">3</text><text x="19" y="222">4</text><text x="19" y="274">5</text><text x="19" y="326">6</text><text x="19" y="378">7</text><text x="19" y="430">8</text><text x="19" y="482">9</text><text x="19" y="534">10</text>
<text x="19" y="586">11</text><text x="19" y="638">12</text><text x="19" y="690">13</text><text x="19" y="742">14</text><text x="19" y="794">15</text><text x="19" y="846">16</text><text x="19" y="898">17</text><text x="19" y="950">18</text><text x="19" y="1002">19</text><text x="19" y="1054">20</text>
<text x="19" y="1106">21</text><text x="19" y="1158">22</text><text x="19" y="1210">23</text><text x="19" y="1262">24</text><text x="19" y="1314">25</text><text x="19" y="1366">26</text><text x="19" y="1418">27</text><text x="19" y="1470">28</text><text x="19" y="1522">29</text><text x="19" y="1574">30</text>
<text x="19" y="1626">31</text><text x="19" y="1678">32</text><text x="19" y="1730">33</text><text x="19" y="1782">34</text><text x="19" y="1834">35</text><text x="19" y="1886">36</text><text x="19" y="1938">37</text><text x="19" y="1990">38</text><text x="19" y="2042">39</text><text x="19" y="2094">40</text>
<text x="19" y="2146">41</text><text x="19" y="2198">42</text><text x="19" y="2250">43</text><text x="19" y="2302">44</text><text x="19" y="2354">45</text><text x="19" y="2406">46</text><text x="19" y="2458">47</text><text x="19" y="2510">48</text><text x="19" y="2562">49</text><text x="19" y="2614">50</text>
<text x="19" y="2666">51</text><text x="19" y="2718">52</text><text x="19" y="2770">53</text><text x="19" y="2822">54</text><text x="19" y="2874">55</text><text x="19" y="2926">56</text><text x="19" y="2978">57</text><text x="19" y="3030">58</text><text x="19" y="3082">59</text><text x="19" y="3134">60</text>
</g>
<g id="row-numbers-right" class="num">
<text x="503" y="66">1</text><text x="503" y="118">2</text><text x="503" y="170">3</text><text x="503" y="222">4</text><text x="503" y="274">5</text><text x="503" y="326">6</text><text x="503" y="378">7</text><text x="503" y="430">8</text><text x="503" y="482">9</text><text x="503" y="534">10</text>
<text x="503" y="586">11</text><text x="503" y="638">12</text><text x="503" y="690">13</text><text x="503" y="742">14</text><text x="503" y="794">15</text><text x="503" y="846">16</text><text x="503" y="898">17</text><text x="503" y="950">18</text><text x="503" y="1002">19</text><text x="503" y="1054">20</text>
<text x="503" y="1106">21</text><text x="503" y="1158">22</text><text x="503" y="1210">23</text><text x="503" y="1262">24</text><text x="503" y="1314">25</text><text x="503" y="1366">26</text><text x="503" y="1418">27</text><text x="503" y="1470">28</text><text x="503" y="1522">29</text><text x="503" y="1574">30</text>
<text x="503" y="1626">31</text><text x="503" y="1678">32</text><text x="503" y="1730">33</text><text x="503" y="1782">34</text><text x="503" y="1834">35</text><text x="503" y="1886">36</text><text x="503" y="1938">37</text><text x="503" y="1990">38</text><text x="503" y="2042">39</text><text x="503" y="2094">40</text>
<text x="503" y="2146">41</text><text x="503" y="2198">42</text><text x="503" y="2250">43</text><text x="503" y="2302">44</text><text x="503" y="2354">45</text><text x="503" y="2406">46</text><text x="503" y="2458">47</text><text x="503" y="2510">48</text><text x="503" y="2562">49</text><text x="503" y="2614">50</text>
<text x="503" y="2666">51</text><text x="503" y="2718">52</text><text x="503" y="2770">53</text><text x="503" y="2822">54</text><text x="503" y="2874">55</text><text x="503" y="2926">56</text><text x="503" y="2978">57</text><text x="503" y="3030">58</text><text x="503" y="3082">59</text><text x="503" y="3134">60</text>
</g>
<text id="watermark" x="262" y="1601" font-family="'Liberation Sans',Arial,sans-serif" font-weight="bold" font-size="14" fill="#333" text-anchor="middle" textLength="137" lengthAdjust="spacingAndGlyphs">BRACELETBOOK.COM</text>
</svg>
